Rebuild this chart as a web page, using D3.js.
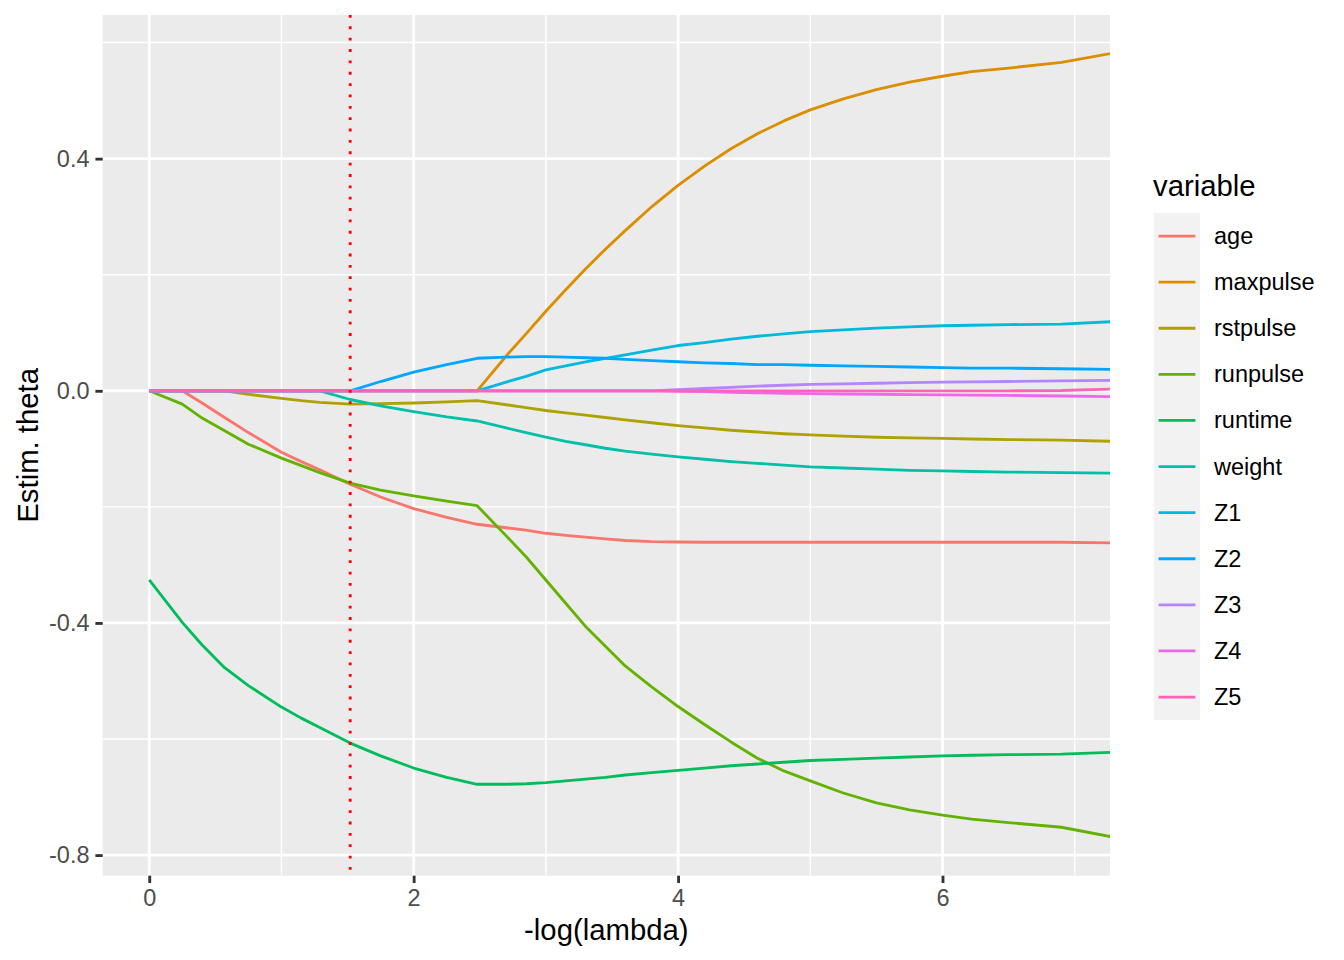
<!DOCTYPE html>
<html>
<head>
<meta charset="utf-8">
<script src="https://cdn.jsdelivr.net/npm/d3@7"></script>
<style>
  html, body { margin: 0; padding: 0; background: #ffffff; }
  svg { display: block; font-family: "Liberation Sans", Arial, Helvetica, sans-serif; }
</style>
</head>
<body>
<svg id="chart" width="1344" height="960"></svg>
<script>
// -log(lambda) grid
const xs = [0, 0.25, 0.4, 0.57, 0.75, 1.0, 1.15, 1.29, 1.52, 1.75, 2.0, 2.25, 2.48, 2.7, 2.85, 3.0, 3.15, 3.3, 3.45, 3.6, 3.8, 4.0, 4.2, 4.4, 4.6, 4.8, 5.0, 5.25, 5.5, 5.75, 6.0, 6.22, 6.5, 6.9, 7.27];

const age      = [0, 0, -0.021, -0.046, -0.072, -0.106, -0.122, -0.136, -0.161, -0.183, -0.203, -0.218, -0.230, -0.236, -0.240, -0.2455, -0.249, -0.252, -0.255, -0.258, -0.260, -0.2605, -0.261, -0.261, -0.261, -0.261, -0.261, -0.261, -0.261, -0.261, -0.261, -0.261, -0.261, -0.261, -0.262];
const maxpulse = [0, 0, 0, 0, 0, 0, 0, 0, 0, 0, 0, 0, 0, 0.060, 0.098, 0.137, 0.174, 0.210, 0.244, 0.276, 0.317, 0.354, 0.387, 0.417, 0.443, 0.465, 0.484, 0.503, 0.519, 0.532, 0.542, 0.550, 0.556, 0.566, 0.581];
const rstpulse = [0, 0, 0, 0, -0.006, -0.013, -0.017, -0.020, -0.023, -0.022, -0.021, -0.019, -0.017, -0.024, -0.029, -0.034, -0.038, -0.042, -0.046, -0.050, -0.055, -0.060, -0.064, -0.068, -0.071, -0.074, -0.076, -0.078, -0.080, -0.081, -0.082, -0.083, -0.084, -0.085, -0.087];
const runpulse = [0, -0.023, -0.047, -0.069, -0.092, -0.116, -0.129, -0.141, -0.159, -0.171, -0.181, -0.190, -0.198, -0.250, -0.286, -0.326, -0.366, -0.406, -0.440, -0.474, -0.510, -0.544, -0.575, -0.605, -0.633, -0.655, -0.672, -0.693, -0.710, -0.722, -0.731, -0.738, -0.744, -0.752, -0.768];
const runtime  = [-0.326, -0.399, -0.438, -0.477, -0.508, -0.545, -0.564, -0.580, -0.607, -0.629, -0.650, -0.666, -0.678, -0.678, -0.677, -0.675, -0.672, -0.669, -0.666, -0.662, -0.658, -0.654, -0.650, -0.646, -0.643, -0.640, -0.637, -0.635, -0.633, -0.631, -0.629, -0.628, -0.627, -0.626, -0.623];
const weight   = [0, 0, 0, 0, 0, 0, 0, 0, -0.015, -0.026, -0.036, -0.045, -0.052, -0.064, -0.072, -0.080, -0.087, -0.093, -0.099, -0.104, -0.109, -0.114, -0.118, -0.122, -0.125, -0.128, -0.131, -0.133, -0.135, -0.137, -0.138, -0.139, -0.140, -0.141, -0.142];
const Z1       = [0, 0, 0, 0, 0, 0, 0, 0, 0, 0, 0, 0, 0, 0.015, 0.025, 0.036, 0.043, 0.050, 0.056, 0.062, 0.070, 0.078, 0.083, 0.089, 0.094, 0.098, 0.102, 0.105, 0.108, 0.110, 0.112, 0.113, 0.114, 0.115, 0.119];
const Z2       = [0, 0, 0, 0, 0, 0, 0, 0, 0, 0.016, 0.032, 0.045, 0.056, 0.058, 0.059, 0.059, 0.058, 0.057, 0.056, 0.054, 0.052, 0.050, 0.048, 0.047, 0.045, 0.045, 0.044, 0.043, 0.042, 0.041, 0.040, 0.039, 0.039, 0.038, 0.037];
const Z3       = [0, 0, 0, 0, 0, 0, 0, 0, 0, 0, 0, 0, 0, 0, 0, 0, 0, 0, 0, 0, 0, 0.002, 0.004, 0.006, 0.008, 0.0095, 0.011, 0.012, 0.013, 0.014, 0.015, 0.0155, 0.016, 0.017, 0.018];
const Z4       = [0, 0, 0, 0, 0, 0, 0, 0, 0, 0, 0, 0, 0, 0, 0, 0, 0, 0, 0, 0, 0, -0.001, -0.0015, -0.0025, -0.0035, -0.0043, -0.005, -0.0055, -0.006, -0.0065, -0.007, -0.0075, -0.008, -0.009, -0.010];
const Z5       = [0, 0, 0, 0, 0, 0, 0, 0, 0, 0, 0, 0, 0, 0, 0, 0, 0, 0, 0, 0, 0, 0, 0, 0, 0, 0, 0, 0, 0, 0, 0, 0, 0, 0.0005, 0.003];

const variables = ["age", "maxpulse", "rstpulse", "runpulse", "runtime", "weight", "Z1", "Z2", "Z3", "Z4", "Z5"];
const seriesValues = [age, maxpulse, rstpulse, runpulse, runtime, weight, Z1, Z2, Z3, Z4, Z5];
const colors = ["#F8766D", "#DB8E00", "#AEA200", "#64B200", "#00BD5C", "#00C1A7", "#00BADE", "#00A6FF", "#B385FF", "#EF67EB", "#FF63B6"];

const vlineX = 1.52;

const xTicks = [0, 2, 4, 6];
const xTickLabels = ["0", "2", "4", "6"];
const xMinor = [1, 3, 5, 7];
const yTicks = [-0.8, -0.4, 0, 0.4];
const yTickLabels = ["-0.8", "-0.4", "0.0", "0.4"];
const yMinor = [-0.6, -0.2, 0.2, 0.6];

const xDomain = [-0.352, 7.267];
const yDomain = [-0.8355, 0.6475];

// ---- layout ----
const LW = 2.84;
const svg = d3.select("#chart");
const P = { left: 102.7, right: 1110, top: 15, bottom: 875.7 };

const x = d3.scaleLinear().domain(xDomain).range([P.left, P.right]);
const y = d3.scaleLinear().domain(yDomain).range([P.bottom, P.top]);

svg.append("defs").append("clipPath").attr("id", "panelClip")
  .append("rect").attr("x", P.left).attr("y", P.top)
  .attr("width", P.right - P.left).attr("height", P.bottom - P.top);

svg.append("rect").attr("x", P.left).attr("y", P.top)
  .attr("width", P.right - P.left).attr("height", P.bottom - P.top)
  .attr("fill", "#EBEBEB");

const grid = svg.append("g").attr("clip-path", "url(#panelClip)");
grid.selectAll(".ymin").data(yMinor).join("line")
  .attr("x1", P.left).attr("x2", P.right)
  .attr("y1", d => y(d)).attr("y2", d => y(d))
  .attr("stroke", "#ffffff").attr("stroke-width", LW / 2);
grid.selectAll(".xmin").data(xMinor).join("line")
  .attr("y1", P.top).attr("y2", P.bottom)
  .attr("x1", d => x(d)).attr("x2", d => x(d))
  .attr("stroke", "#ffffff").attr("stroke-width", LW / 2);
grid.selectAll(".ymaj").data(yTicks).join("line")
  .attr("x1", P.left).attr("x2", P.right)
  .attr("y1", d => y(d)).attr("y2", d => y(d))
  .attr("stroke", "#ffffff").attr("stroke-width", LW);
grid.selectAll(".xmaj").data(xTicks).join("line")
  .attr("y1", P.top).attr("y2", P.bottom)
  .attr("x1", d => x(d)).attr("x2", d => x(d))
  .attr("stroke", "#ffffff").attr("stroke-width", LW);

const line = d3.line().x(d => x(d[0])).y(d => y(d[1]));
const lines = svg.append("g").attr("clip-path", "url(#panelClip)");
variables.forEach((v, i) => {
  const pts = xs.map((xv, j) => [xv, seriesValues[i][j]]);
  lines.append("path").datum(pts)
    .attr("d", line)
    .attr("fill", "none")
    .attr("stroke", colors[i])
    .attr("stroke-width", LW)
    .attr("stroke-linejoin", "round")
    .attr("stroke-linecap", "butt");
});

lines.append("line")
  .attr("x1", x(vlineX)).attr("x2", x(vlineX))
  .attr("y1", P.top).attr("y2", P.bottom)
  .attr("stroke", "#FF0000").attr("stroke-width", LW)
  .attr("stroke-dasharray", `${LW},${LW * 3}`);

const xAxis = d3.axisBottom(x).tickValues(xTicks)
  .tickFormat((d, i) => xTickLabels[i]).tickSize(7.3).tickPadding(5.9);
const yAxis = d3.axisLeft(y).tickValues(yTicks)
  .tickFormat((d, i) => yTickLabels[i]).tickSize(7.3).tickPadding(5.9);

const gx = svg.append("g").attr("transform", `translate(0,${P.bottom})`).call(xAxis);
const gy = svg.append("g").attr("transform", `translate(${P.left},0)`).call(yAxis);
[gx, gy].forEach(g => {
  g.select(".domain").remove();
  g.selectAll(".tick line").attr("stroke", "#333333").attr("stroke-width", LW);
  g.selectAll(".tick text").attr("fill", "#4D4D4D")
    .style("font-size", "23.5px")
    .style("font-family", "'Liberation Sans', Arial, Helvetica, sans-serif");
});

svg.append("text")
  .attr("x", (P.left + P.right) / 2).attr("y", 940)
  .attr("text-anchor", "middle")
  .style("font-size", "29.3px").attr("fill", "#000000")
  .text("-log(lambda)");
svg.append("text")
  .attr("transform", `translate(37.5,${(P.top + P.bottom) / 2}) rotate(-90)`)
  .attr("text-anchor", "middle")
  .style("font-size", "29.3px").attr("fill", "#000000")
  .text("Estim. theta");

const L = { x: 1154, top: 213, keyW: 46, keyH: 46.1 };
svg.append("text").attr("x", 1153).attr("y", 196)
  .style("font-size", "29.3px").attr("fill", "#000000").text("variable");
svg.append("rect").attr("x", L.x).attr("y", L.top)
  .attr("width", L.keyW).attr("height", L.keyH * variables.length)
  .attr("fill", "#F2F2F2");
const lg = svg.append("g");
variables.forEach((v, i) => {
  const cy = L.top + L.keyH * (i + 0.5);
  lg.append("line").attr("x1", L.x + 4.6).attr("x2", L.x + L.keyW - 4.6)
    .attr("y1", cy).attr("y2", cy)
    .attr("stroke", colors[i]).attr("stroke-width", LW);
  lg.append("text").attr("x", 1214).attr("y", cy)
    .attr("dominant-baseline", "central")
    .style("font-size", "23.5px").attr("fill", "#000000").text(v);
});
</script>
</body>
</html>
